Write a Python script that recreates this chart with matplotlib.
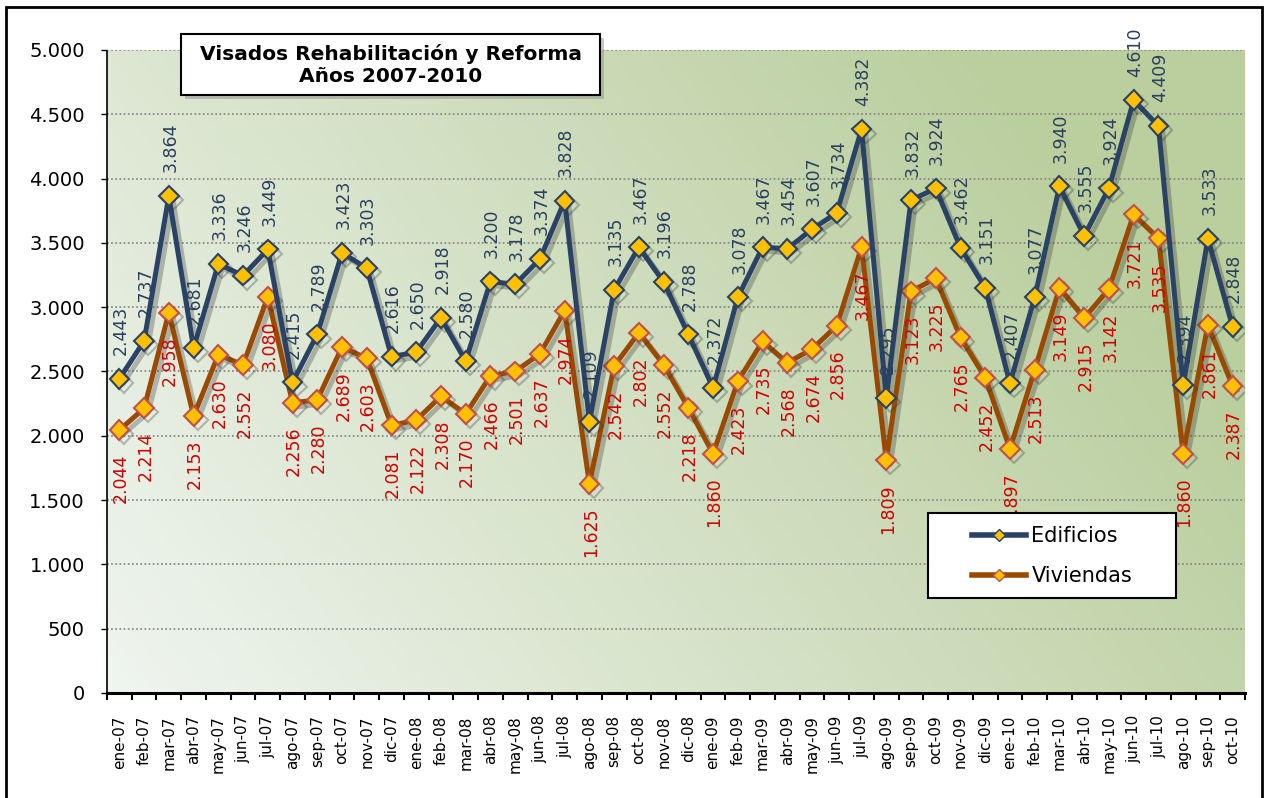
import numpy as np
import matplotlib
matplotlib.use('Agg')
import matplotlib.pyplot as plt
import matplotlib.patheffects as pe
from matplotlib.lines import Line2D
from matplotlib.patches import Rectangle

# datos: visados rehabilitación y reforma 2007-2010
meses = ['ene-07', 'feb-07', 'mar-07', 'abr-07', 'may-07', 'jun-07', 'jul-07', 'ago-07', 'sep-07', 'oct-07', 'nov-07', 'dic-07',
         'ene-08', 'feb-08', 'mar-08', 'abr-08', 'may-08', 'jun-08', 'jul-08', 'ago-08', 'sep-08', 'oct-08', 'nov-08', 'dic-08',
         'ene-09', 'feb-09', 'mar-09', 'abr-09', 'may-09', 'jun-09', 'jul-09', 'ago-09', 'sep-09', 'oct-09', 'nov-09', 'dic-09',
         'ene-10', 'feb-10', 'mar-10', 'abr-10', 'may-10', 'jun-10', 'jul-10', 'ago-10', 'sep-10', 'oct-10']
edificios = [2443, 2737, 3864, 2681, 3336, 3246, 3449, 2415, 2789, 3423, 3303, 2616,
             2650, 2918, 2580, 3200, 3178, 3374, 3828, 2109, 3135, 3467, 3196, 2788,
             2372, 3078, 3467, 3454, 3607, 3734, 4382, 2295, 3832, 3924, 3462, 3151,
             2407, 3077, 3940, 3555, 3924, 4610, 4409, 2394, 3533, 2848]
viviendas = [2044, 2214, 2958, 2153, 2630, 2552, 3080, 2256, 2280, 2689, 2603, 2081,
             2122, 2308, 2170, 2466, 2501, 2637, 2974, 1625, 2542, 2802, 2552, 2218,
             1860, 2423, 2735, 2568, 2674, 2856, 3467, 1809, 3123, 3225, 2765, 2452,
             1897, 2513, 3149, 2915, 3142, 3721, 3535, 1860, 2861, 2387]
yticks = [0, 500, 1000, 1500, 2000, 2500, 3000, 3500, 4000, 4500, 5000]

col_edif = '#2a4266'
col_viv = '#9a4a00'
col_lab_edif = '#2b3f5e'
col_lab_viv = '#d00000'
col_mark = '#ffc000'

def fmt(v):
    return '{:,}'.format(v).replace(',', '.')

W, H = 1266, 798
fig = plt.figure(figsize=(W / 100, H / 100), dpi=100)
fig.patch.set_facecolor('white')

ax = fig.add_axes([107 / W, 1 - 693 / H, (1245 - 107) / W, (693 - 50) / H])

# fondo degradado
gx, gy = np.meshgrid(np.linspace(0, 1, 200), np.linspace(1, 0, 200))
t = np.clip(0.85 * gx + 0.35 * gy, 0, 1)
c0 = np.array([0.94, 0.96, 0.94])
c1 = np.array([0.73, 0.81, 0.62])
grad = c0[None, None, :] * (1 - t[..., None]) + c1[None, None, :] * t[..., None]
ax.imshow(grad, extent=[0, 1, 0, 1], transform=ax.transAxes, aspect='auto', zorder=0)

x = np.arange(len(meses))
sombra = [pe.SimpleLineShadow(offset=(3, -3), shadow_color='#303030', alpha=0.3), pe.Normal()]

ax.plot(x, viviendas, color=col_viv, lw=3.6, marker='D', ms=10, mfc=col_mark, mec='#c0504d', mew=1.5,
        zorder=3, path_effects=sombra)
ax.plot(x, edificios, color=col_edif, lw=3.6, marker='D', ms=10, mfc=col_mark, mec=col_edif, mew=1.5,
        zorder=4, path_effects=sombra)

for i in range(len(meses)):
    ax.annotate(fmt(edificios[i]), (x[i], edificios[i]), xytext=(1, 17), textcoords='offset points',
                rotation=90, ha='center', va='bottom', fontsize=12.5, color=col_lab_edif, zorder=6)
    ax.annotate(fmt(viviendas[i]), (x[i], viviendas[i]), xytext=(1, -17), textcoords='offset points',
                rotation=90, ha='center', va='top', fontsize=12.5, color=col_lab_viv, zorder=5)

ax.set_xlim(-0.5, len(meses) - 0.5)
ax.set_ylim(0, 5000)
ax.set_yticks(yticks)
ax.set_yticklabels([fmt(v) for v in yticks], fontsize=14)
ax.set_xticks(x)
ax.set_xticklabels(meses, rotation=90, fontsize=11)
ax.set_xticks(np.arange(len(meses) + 1) - 0.5, minor=True)
ax.tick_params(axis='x', which='major', length=0, pad=16)
ax.tick_params(axis='x', which='minor', length=5, width=1.5, direction='out')
ax.tick_params(axis='y', length=4, width=1, pad=12)

ax.yaxis.grid(True, linestyle=(0, (1, 1.5)), color='#808080', lw=1.2)
ax.set_axisbelow(True)
ax.spines['top'].set_visible(False)
ax.spines['right'].set_visible(False)
ax.spines['bottom'].set_linewidth(2.2)
ax.spines['left'].set_linestyle((0, (1, 1)))
ax.spines['left'].set_linewidth(1.2)

# leyenda (marco dibujado aparte)
fig.patches.append(Rectangle((928 / W, 1 - 598 / H), 248 / W, 85 / H, transform=fig.transFigure,
                             facecolor='white', edgecolor='black', lw=1.5, zorder=9))
h1 = Line2D([], [], color=col_edif, lw=4, marker='D', ms=6, mfc=col_mark, mec=col_edif, mew=1)
h2 = Line2D([], [], color=col_viv, lw=4, marker='D', ms=6, mfc=col_mark, mec='#c0504d', mew=1)
leg = fig.legend([h1, h2], ['Edificios', 'Viviendas'], loc='center left',
                 bbox_to_anchor=(972 / W, 1 - 556 / H), bbox_transform=fig.transFigure,
                 fontsize=15, frameon=False, handlelength=2.6, handletextpad=0.25,
                 borderpad=0, labelspacing=0.95, borderaxespad=0)
leg.set_zorder(10)

# caja del título
fig.patches.append(Rectangle((185 / W, 1 - 99 / H), 419 / W, 61 / H, transform=fig.transFigure,
                             facecolor='#909090', edgecolor='none', alpha=0.5, zorder=8))
fig.patches.append(Rectangle((181 / W, 1 - 95 / H), 419 / W, 61 / H, transform=fig.transFigure,
                             facecolor='white', edgecolor='black', lw=1.5, zorder=9))
fig.text(391 / W, 1 - 65 / H, 'Visados Rehabilitación y Reforma\nAños 2007-2010', ha='center', va='center',
         fontsize=14.5, fontweight='bold', linespacing=1.25, zorder=10)

# marco exterior
fig.patches.append(Rectangle((6 / W, -0.02), (1262 - 6) / W, 1.02 - 7 / H, transform=fig.transFigure,
                             facecolor='none', edgecolor='black', lw=2, zorder=1))

fig.savefig('out.png', dpi=100)
